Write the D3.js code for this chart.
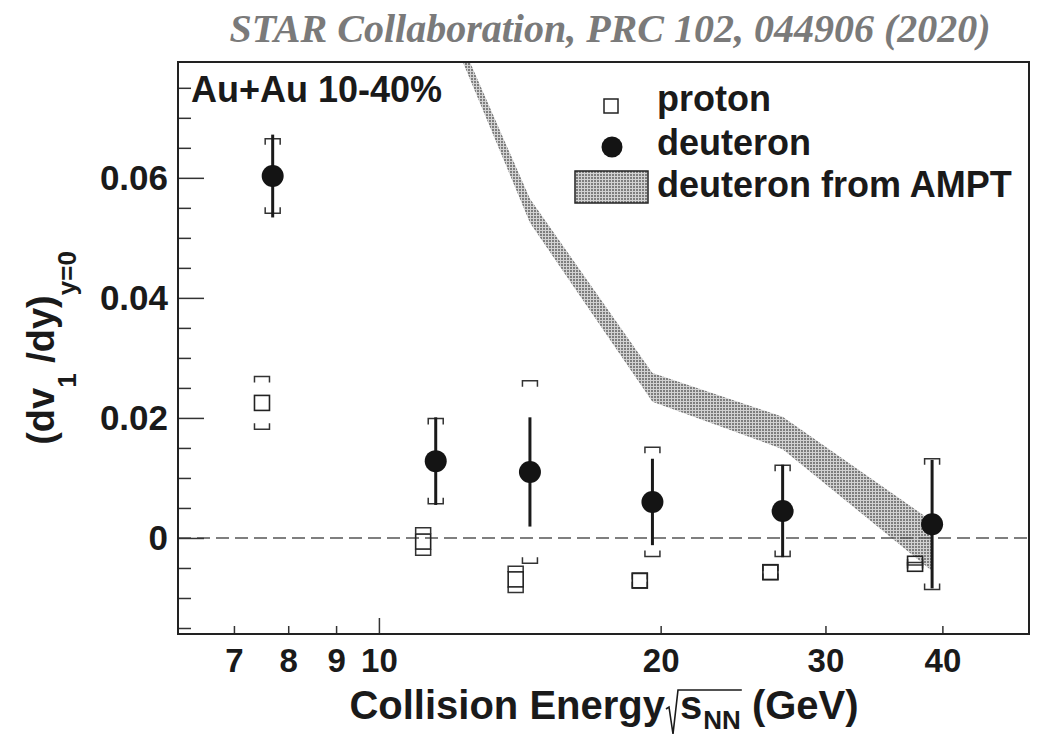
<!DOCTYPE html>
<html><head><meta charset="utf-8">
<script src="https://cdn.jsdelivr.net/npm/d3@7"></script>
<style>body{margin:0;background:#fff;} svg{display:block;} text{white-space:pre;}</style>
</head><body><svg id="c" width="1038" height="742" xml:space="preserve"></svg>
<script>
// ---------------- data ----------------
const energies = [7.7, 11.5, 14.5, 19.6, 27, 39];
const protonPlotEnergy = [7.5, 11.15, 14.0, 19.0, 26.2, 37.4];
const protonV1 = [0.0225, -0.0006, -0.0069, -0.0071, -0.0057, -0.0043];
const protonSys = [0.0044, 0.0023, 0.0022, 0.0012, 0.0012, 0.0002];
const deuteronV1 = [0.0603, 0.0128, 0.0110, 0.0060, 0.0045, 0.0023];
const deuteronStat = [0.0069, 0.0073, 0.0091, 0.0072, 0.0077, 0.0107];
const deuteronSys = [0.0062, 0.0071, 0.0152, 0.0091, 0.0076, 0.0109];
const amptEnergy = [11.5, 14.5, 19.6, 27, 39];
const amptHigh = [0.0923, 0.0565, 0.0275, 0.0202, 0.0028];
const amptLow = [0.0901, 0.0525, 0.0227, 0.0148, -0.0055];
const xTickValues = [7, 8, 9, 10, 20, 30, 40];
const xTickLabels = ["7", "8", "9", "10", "20", "30", "40"];
const yMajorTicks = [0, 0.02, 0.04, 0.06];
const yTickLabels = ["0", "0.02", "0.04", "0.06"];
const yMinorTicks = [-0.015, -0.01, -0.005, 0.005, 0.01, 0.015, 0.025, 0.03, 0.035, 0.045, 0.05, 0.055, 0.065, 0.07, 0.075];
const legendLabels = ["proton", "deuteron", "deuteron from AMPT"];
const titleText = "STAR Collaboration, PRC 102, 044906 (2020)";
const systemLabel = "Au+Au 10-40%";

// ---------------- layout ----------------
const L = 178, R = 1029, T = 62, B = 634;
const svg = d3.select("#c");
const x = d3.scaleLog().domain([6.1, 49.5]).range([L, R]);
const y = d3.scaleLinear().domain([-0.016, 0.0793]).range([B, T]);
const SANS = "'Liberation Sans', Arial, Helvetica, sans-serif";

const defs = svg.append("defs");
const pat = defs.append("pattern").attr("id", "dots").attr("width", 3).attr("height", 3)
  .attr("patternUnits", "userSpaceOnUse");
pat.append("rect").attr("width", 3).attr("height", 3).attr("fill", "#d2d2d2");
pat.append("rect").attr("width", 2).attr("height", 2).attr("fill", "#7e7e7e");
defs.append("clipPath").attr("id", "plotclip").append("rect")
  .attr("x", L).attr("y", T).attr("width", R - L).attr("height", B - T);

// title
svg.append("text").attr("x", 610).attr("y", 42).attr("text-anchor", "middle")
  .attr("font-family", "'Liberation Serif', 'Times New Roman', serif")
  .attr("font-weight", "bold").attr("font-style", "italic")
  .attr("font-size", 40).attr("fill", "#7a7a7a").text(titleText);

// AMPT band
const amptData = amptEnergy.map((e, i) => ({e, hi: amptHigh[i], lo: amptLow[i]}));
svg.append("g").attr("clip-path", "url(#plotclip)").append("path")
  .datum(amptData)
  .attr("d", d3.area().x(d => x(d.e)).y0(d => y(d.lo)).y1(d => y(d.hi)))
  .attr("fill", "url(#dots)");

// zero line
svg.append("line").attr("x1", L).attr("x2", R).attr("y1", y(0)).attr("y2", y(0))
  .attr("stroke", "#555").attr("stroke-width", 1.6).attr("stroke-dasharray", "13,6");

// axes
const yAxisG = svg.append("g").attr("transform", `translate(${L},0)`)
  .call(d3.axisLeft(y).tickValues(yMajorTicks).tickSize(-26).tickPadding(10)
    .tickFormat((d, i) => yTickLabels[i]));
yAxisG.select(".domain").remove();
yAxisG.selectAll("line").attr("stroke", "#333").attr("stroke-width", 1.5);
yAxisG.selectAll("text").attr("font-family", SANS).attr("font-weight", "bold")
  .attr("font-size", 35).attr("fill", "#1a1a1a");
const yMinorG = svg.append("g").attr("transform", `translate(${L},0)`)
  .call(d3.axisLeft(y).tickValues(yMinorTicks).tickSize(-13).tickFormat(""));
yMinorG.select(".domain").remove();
yMinorG.selectAll("line").attr("stroke", "#333").attr("stroke-width", 1.5);

const xAxisG = svg.append("g").attr("transform", `translate(0,${B})`)
  .call(d3.axisBottom(x).tickValues(xTickValues).tickSize(-8).tickPadding(15)
    .tickFormat((d, i) => xTickLabels[i]));
xAxisG.select(".domain").remove();
xAxisG.selectAll("line").attr("stroke", "#333").attr("stroke-width", 1.5)
  .attr("y2", d => d === 10 ? -16 : -8);
xAxisG.selectAll("text").attr("font-family", SANS).attr("font-weight", "bold")
  .attr("font-size", 33).attr("fill", "#1a1a1a");

// systematic brackets
function bracket(g, cx, v, s, w) {
  const yt = y(v + s), yb = y(v - s), h = 6;
  g.append("path").attr("d", `M${cx - w},${yt + h}L${cx - w},${yt}L${cx + w},${yt}L${cx + w},${yt + h}`)
    .attr("fill", "none").attr("stroke", "#333").attr("stroke-width", 1.5);
  g.append("path").attr("d", `M${cx - w},${yb - h}L${cx - w},${yb}L${cx + w},${yb}L${cx + w},${yb - h}`)
    .attr("fill", "none").attr("stroke", "#333").attr("stroke-width", 1.5);
}
const marks = svg.append("g");
// protons
protonV1.forEach((v, i) => {
  const cx = x(protonPlotEnergy[i]);
  bracket(marks, cx, v, protonSys[i], 7.5);
  marks.append("rect").attr("x", cx - 7.5).attr("y", y(v) - 7.5).attr("width", 15).attr("height", 15)
    .attr("fill", "none").attr("stroke", "#222").attr("stroke-width", 1.6);
});
// deuterons
deuteronV1.forEach((v, i) => {
  const cx = x(energies[i]);
  bracket(marks, cx, v, deuteronSys[i], 7.5);
  marks.append("line").attr("x1", cx).attr("x2", cx)
    .attr("y1", y(v + deuteronStat[i])).attr("y2", y(v - deuteronStat[i]))
    .attr("stroke", "#1a1a1a").attr("stroke-width", 3);
  marks.append("circle").attr("cx", cx).attr("cy", y(v)).attr("r", 11).attr("fill", "#141414");
});

// frame
svg.append("rect").attr("x", L).attr("y", T).attr("width", R - L).attr("height", B - T)
  .attr("fill", "none").attr("stroke", "#222").attr("stroke-width", 2);

// system label
svg.append("text").attr("x", 191).attr("y", 102).attr("font-family", SANS).attr("font-weight", "bold")
  .attr("font-size", 36).attr("fill", "#1a1a1a").text(systemLabel);

// legend
const lg = svg.append("g");
lg.append("rect").attr("x", 604).attr("y", 99).attr("width", 14).attr("height", 14)
  .attr("fill", "none").attr("stroke", "#222").attr("stroke-width", 1.5);
lg.append("circle").attr("cx", 612).attr("cy", 147).attr("r", 10.5).attr("fill", "#141414");
lg.append("rect").attr("x", 575).attr("y", 171).attr("width", 73).attr("height", 32)
  .attr("fill", "url(#dots)").attr("stroke", "#222").attr("stroke-width", 1.5);
const legY = [111, 155, 197];
legendLabels.forEach((t, i) => {
  lg.append("text").attr("x", 657).attr("y", legY[i]).attr("font-family", SANS).attr("font-weight", "bold")
    .attr("font-size", 36).attr("fill", "#1a1a1a").text(t);
});

// y axis title
const yt = svg.append("text").attr("transform", "translate(54,348) rotate(-90)")
  .attr("text-anchor", "middle").attr("font-family", SANS).attr("font-weight", "bold")
  .attr("font-size", 38).attr("fill", "#1a1a1a");
yt.append("tspan").text("(dv");
yt.append("tspan").attr("font-size", 26).attr("dy", 22).text("1");
yt.append("tspan").attr("dy", -22).text(" /dy)");
yt.append("tspan").attr("font-size", 26).attr("dy", 22).text("y=0");

// x axis title
const xg = svg.append("g").attr("font-family", SANS).attr("font-weight", "bold").attr("fill", "#1a1a1a");
const base = 719;
const t1 = xg.append("text").attr("y", base).attr("font-size", 40).text("Collision Energy");
const t2 = xg.append("text").attr("y", base).attr("font-size", 40).text("s");
const t3 = xg.append("text").attr("y", base + 10).attr("font-size", 26).text("NN");
const t4 = xg.append("text").attr("y", base).attr("font-size", 40).text(" (GeV)");
const w1 = t1.node().getComputedTextLength(), w2 = t2.node().getComputedTextLength(),
      w3 = t3.node().getComputedTextLength(), w4 = t4.node().getComputedTextLength();
const rad = 15;
const total = w1 + rad + w2 + 1 + w3 + w4;
let x0 = 604 - total / 2;
t1.attr("x", x0);
const rx = x0 + w1;
t2.attr("x", rx + rad);
t3.attr("x", rx + rad + w2 + 1);
t4.attr("x", rx + rad + w2 + 1 + w3);
xg.append("path")
  .attr("d", `M${rx + 1},${base - 10}L${rx + 4},${base - 12}L${rx + 8},${base + 15}L${rx + 13},${base - 29}L${rx + rad + w2 + 1 + w3 + 1},${base - 29}`)
  .attr("fill", "none").attr("stroke", "#1a1a1a").attr("stroke-width", 1.6);
</script></body></html>
